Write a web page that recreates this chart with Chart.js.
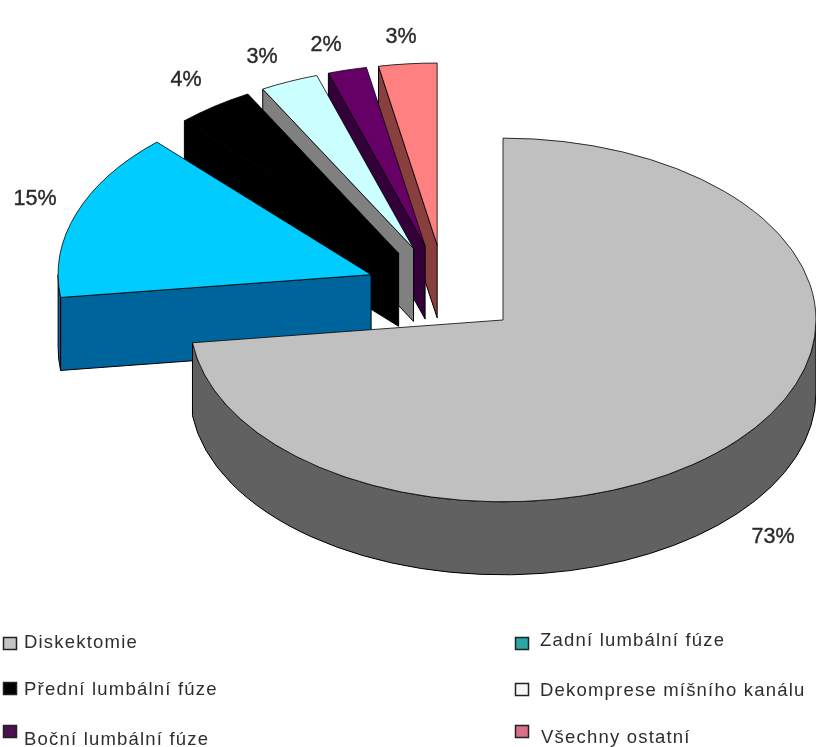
<!DOCTYPE html>
<html lang="cs">
<head>
    <meta charset="UTF-8">
    <title>Typy operací páteře</title>
    <script src="https://cdn.jsdelivr.net/npm/chart.js"></script>
    <style>
        body { margin: 0; background-color: #fff; }
        canvas { display: block; }
    </style>
</head>
<body>
    <canvas id="pie3d" width="816" height="747"></canvas>

    <script>
        const categories = ['Diskektomie', 'Zadní lumbální fúze', 'Přední lumbální fúze', 'Dekomprese míšního kanálu', 'Boční lumbální fúze', 'Všechny ostatní'];
        const shares = [73, 15, 4, 3, 2, 3];
        const topColors = ['#c0c0c0', '#00ccff', '#000000', '#ccffff', '#660066', '#ff8080'];
        const sideColors = ['#616161', '#00649c', '#000000', '#808080', '#33003a', '#8a3f3f'];
        const keyColors = ['#c4c4c4', '#2aa6a6', '#000000', '#f4f8f8', '#4a1050', '#d8708a'];

        // pohled na koláč: střed, zploštění, výška stěny, odsunutí výsečí
        const pieX = 444.5;
        const pieY = 290;
        const squash = 0.581;
        const depth = 73;
        const explode = 78;

        const sliceLabelSpots = [[773, 537], [35, 199], [186, 80], [262, 57], [326, 45], [401, 37]];
        const keyRows = [[3, 637, 24, 648], [515, 637, 540, 646], [3, 682, 24, 695], [515, 683, 540, 696], [3, 725, 24, 745], [515, 725, 541, 743]];

        function drawWalls(ctx, arc, color) {
            const mid = (arc.startAngle + arc.endAngle) / 2;
            const cx = pieX + Math.cos(mid) * explode;
            const cy = pieY + Math.sin(mid) * explode * squash;
            const rx = arc.outerRadius;
            const ry = arc.outerRadius * squash;

            ctx.save();
            ctx.fillStyle = color;
            ctx.strokeStyle = '#000';
            ctx.lineWidth = 1;

            // radiální stěny, jen ty otočené k divákovi
            [[arc.startAngle, Math.cos(arc.startAngle) < -0.001], [arc.endAngle, Math.cos(arc.endAngle) > 0.001]].forEach(([angle, visible]) => {
                if (!visible) return;
                const ex = cx + Math.cos(angle) * rx;
                const ey = cy + Math.sin(angle) * ry;
                ctx.beginPath();
                ctx.moveTo(cx, cy);
                ctx.lineTo(ex, ey);
                ctx.lineTo(ex, ey + depth);
                ctx.lineTo(cx, cy + depth);
                ctx.closePath();
                ctx.fill();
                ctx.stroke();
            });

            // vnější plášť, viditelná je jen spodní půlka elipsy
            const turn = Math.PI * 2;
            for (let k = -1; k <= 1; k++) {
                const from = Math.max(arc.startAngle, k * turn);
                const to = Math.min(arc.endAngle, k * turn + Math.PI);
                if (to <= from) continue;
                ctx.beginPath();
                ctx.ellipse(cx, cy, rx, ry, 0, from, to);
                ctx.ellipse(cx, cy + depth, rx, ry, 0, to, from, true);
                ctx.closePath();
                ctx.fill();
                ctx.stroke();
            }
            ctx.restore();
        }

        const pie3d = {
            id: 'pie3d',
            beforeDatasetsDraw(chart) {
                const ctx = chart.ctx;
                const arcs = chart.getDatasetMeta(0).data;
                // malíř odzadu: poslední výseč první, velká výseč navrch
                for (let i = arcs.length - 1; i >= 0; i--) {
                    const arc = arcs[i];
                    const mid = (arc.startAngle + arc.endAngle) / 2;
                    drawWalls(ctx, arc, sideColors[i]);
                    ctx.save();
                    ctx.translate(pieX, pieY);
                    ctx.scale(1, squash);
                    ctx.translate(Math.cos(mid) * explode, Math.sin(mid) * explode);
                    ctx.translate(-arc.x, -arc.y);
                    arc.draw(ctx);
                    ctx.restore();
                }
                return false;
            },
            afterDraw(chart) {
                const ctx = chart.ctx;
                ctx.save();

                // popisky procent
                ctx.font = '21.5px "Liberation Sans", Arial, sans-serif';
                ctx.fillStyle = '#2a2a2a';
                ctx.strokeStyle = '#2a2a2a';
                ctx.lineWidth = 0.4;
                ctx.textAlign = 'center';
                ctx.textBaseline = 'middle';
                shares.forEach((value, i) => {
                    ctx.fillText(value + '%', sliceLabelSpots[i][0], sliceLabelSpots[i][1]);
                    ctx.strokeText(value + '%', sliceLabelSpots[i][0], sliceLabelSpots[i][1]);
                });

                // legenda ve dvou sloupcích
                ctx.font = '18.5px "Liberation Sans", Arial, sans-serif';
                ctx.letterSpacing = '1.2px';
                ctx.textAlign = 'left';
                ctx.textBaseline = 'alphabetic';
                categories.forEach((name, i) => {
                    const [bx, by, tx, ty] = keyRows[i];
                    ctx.fillStyle = keyColors[i];
                    ctx.strokeStyle = '#222';
                    ctx.lineWidth = 1.5;
                    ctx.fillRect(bx + 0.5, by + 0.5, 13, 12);
                    ctx.strokeRect(bx + 0.5, by + 0.5, 13, 12);
                    ctx.fillStyle = '#2e2e2e';
                    ctx.fillText(name, tx, ty);
                });
                ctx.restore();
            }
        };

        new Chart(document.getElementById('pie3d').getContext('2d'), {
            type: 'pie',
            data: {
                labels: categories,
                datasets: [{
                    data: shares,
                    backgroundColor: topColors,
                    borderColor: '#000',
                    borderWidth: 1,
                    clip: false
                }]
            },
            options: {
                responsive: false,
                animation: false,
                radius: 313,
                events: [],
                plugins: {
                    legend: { display: false },
                    tooltip: { enabled: false }
                }
            },
            plugins: [pie3d]
        });
    </script>
</body>
</html>
